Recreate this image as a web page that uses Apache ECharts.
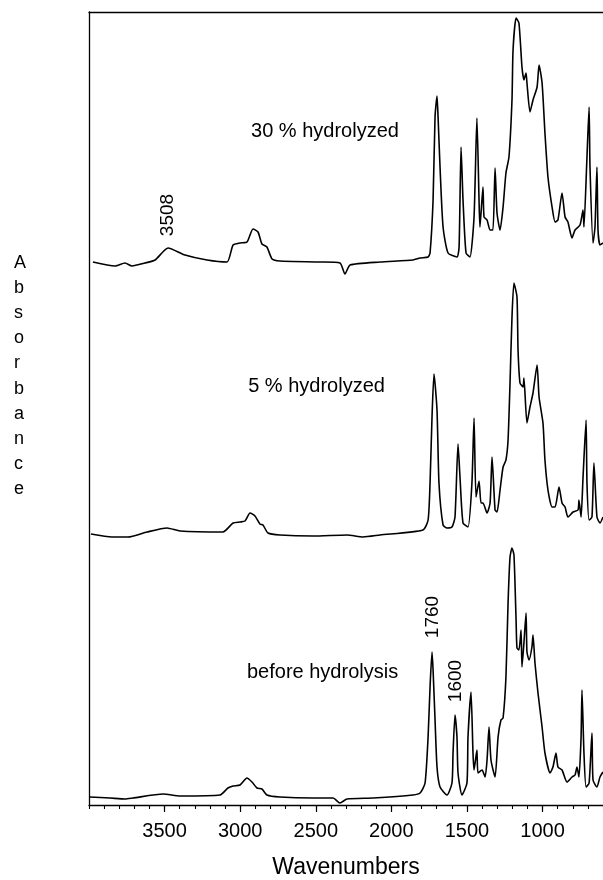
<!DOCTYPE html>
<html>
<head>
<meta charset="utf-8">
<script src="https://cdn.jsdelivr.net/npm/echarts@6/dist/echarts.min.js"></script>
<style>html,body{margin:0;padding:0;background:#fff;}#c{width:603px;height:880px;}</style>
</head>
<body>
<div id="c"></div>
<script>
// Wavenumbers (cm-1) and absorbance (arbitrary units, stacked offsets as drawn)
var wn30 = [3974,3828,3762,3716,3630,3563,3477,3365,3219,3087,3047,3001,2955,2915,2882,2856,2823,2789,2737,2472,2340,2307,2273,2075,1857,1810,1757,1744,1724,1711,1698,1691,1678,1658,1625,1566,1552,1539,1526,1506,1480,1453,1434,1420,1414,1394,1387,1367,1347,1328,1314,1301,1281,1261,1242,1222,1202,1195,1175,1156,1136,1123,1109,1103,1083,1063,1036,1023,1003,984,964,937,917,898,871,851,832,805,785,752,732,726,706,692,686,666,653,640,633,620,600];
var ab30 = [5.43,5.39,5.42,5.39,5.42,5.45,5.57,5.50,5.45,5.43,5.60,5.62,5.63,5.76,5.73,5.61,5.58,5.46,5.44,5.43,5.42,5.31,5.40,5.43,5.45,5.47,5.48,5.52,6.05,6.88,7.09,6.88,6.38,5.78,5.52,5.48,5.58,6.58,6.05,5.52,5.48,5.88,6.87,6.05,5.78,6.18,5.88,5.85,5.75,5.75,6.37,5.92,5.75,5.98,6.32,6.48,7.05,7.55,7.87,7.82,7.38,7.25,7.32,7.22,6.93,7.05,7.18,7.40,7.22,6.72,6.28,5.98,5.83,5.85,6.12,5.88,5.83,5.67,5.75,5.80,5.95,5.78,6.48,6.98,6.38,5.62,5.78,6.38,5.75,5.60,5.62];

var wn5 = [3987,3848,3742,3616,3484,3398,3114,3047,3001,2968,2935,2902,2869,2849,2816,2737,2518,2293,2187,2075,1791,1757,1744,1731,1718,1698,1685,1658,1632,1599,1579,1559,1546,1526,1493,1467,1453,1440,1420,1407,1394,1367,1347,1334,1314,1301,1281,1261,1242,1228,1215,1202,1189,1169,1162,1149,1129,1123,1103,1083,1063,1036,1023,997,984,964,937,917,891,871,851,832,798,765,759,745,732,712,706,692,673,660,640,620,600];
var ab5 = [2.71,2.68,2.68,2.73,2.77,2.74,2.73,2.82,2.83,2.84,2.92,2.89,2.81,2.80,2.72,2.70,2.69,2.70,2.68,2.70,2.75,2.85,3.22,3.88,4.31,3.95,3.22,2.80,2.77,2.78,2.88,3.61,3.28,2.82,2.78,3.22,3.87,3.08,3.24,3.02,3.02,2.92,3.02,3.48,2.95,2.93,3.15,3.38,3.45,3.65,4.22,4.88,5.22,5.08,4.55,4.22,4.18,4.27,3.82,3.98,4.12,4.40,4.08,3.82,3.45,3.15,2.98,2.98,3.18,3.02,2.98,2.88,2.93,2.95,3.05,2.88,3.28,3.85,3.22,2.85,2.88,3.42,2.88,2.82,2.88];

var wnB = [3995,3861,3762,3709,3510,3398,3133,3081,3047,3001,2955,2922,2889,2856,2823,2737,2518,2386,2340,2293,2121,1857,1810,1777,1757,1744,1731,1724,1711,1698,1678,1632,1599,1592,1579,1566,1559,1533,1500,1493,1473,1460,1453,1434,1427,1400,1380,1367,1354,1341,1314,1294,1275,1261,1242,1228,1215,1202,1189,1175,1169,1156,1142,1136,1123,1109,1103,1089,1070,1063,1050,1030,1003,984,950,931,911,898,871,838,805,785,772,759,745,739,726,712,692,673,666,640,620,600];
var abB = [0.08,0.07,0.06,0.07,0.11,0.09,0.10,0.17,0.19,0.20,0.27,0.23,0.17,0.16,0.10,0.08,0.07,0.07,0.02,0.06,0.07,0.10,0.12,0.22,0.68,1.18,1.53,1.35,0.85,0.38,0.18,0.10,0.22,0.52,0.90,0.68,0.32,0.10,0.22,0.68,1.13,0.52,0.35,0.55,0.32,0.35,0.28,0.45,0.78,0.45,0.28,0.68,0.85,0.87,1.28,2.02,2.48,2.57,2.50,1.85,1.57,1.55,1.75,1.38,1.62,1.92,1.53,1.45,1.58,1.70,1.42,1.12,0.78,0.52,0.32,0.38,0.52,0.38,0.35,0.23,0.28,0.30,0.38,0.28,0.68,1.15,0.52,0.18,0.22,0.72,0.25,0.18,0.28,0.33];

var majorTicks = [1000, 1500, 2000, 2500, 3000, 3500];
var seriesNames = ['30 % hydrolyzed', '5 % hydrolyzed', 'before hydrolysis'];
var xTitle = 'Wavenumbers';
var yTitle = 'Absorbance';

function pairs(w, a) { return w.map(function (v, i) { return [v, a[i]]; }); }

var FONT = '"Liberation Sans", Arial, Helvetica, sans-serif';
var lineStyle = { color: '#000', width: 1.6 };
function txt(coord, text, size, rotate) {
  return {
    coord: coord, symbol: 'circle', symbolSize: 0,
    label: { show: true, position: 'inside', formatter: text, color: '#000', fontSize: size, fontFamily: FONT, rotate: rotate || 0 }
  };
}

var chart = echarts.init(document.getElementById('c'), null, { renderer: 'canvas' });
chart.setOption({
  backgroundColor: '#fff',
  animation: false,
  grid: { left: 89, right: 0, top: 12, bottom: 75, containLabel: false, outerBoundsMode: 'none' },
  xAxis: [
    {
      type: 'value', min: 600, max: 4000, inverse: true, position: 'bottom',
      axisLine: { show: true, lineStyle: { color: '#000', width: 1.3 } },
      axisTick: { show: true, customValues: majorTicks, length: 7, lineStyle: { color: '#000', width: 1.2 } },
      axisLabel: { show: true, customValues: majorTicks, color: '#000', fontSize: 20, fontFamily: FONT, margin: 16,
        formatter: function (v) { return String(v); } },
      splitLine: { show: false },
      name: xTitle, nameLocation: 'middle', nameGap: 51,
      nameTextStyle: { color: '#000', fontSize: 23, fontFamily: FONT }
    },
    {
      type: 'value', min: 600, max: 4000, interval: 100, inverse: true, position: 'bottom',
      axisLine: { show: false },
      axisTick: { show: true, length: 4, lineStyle: { color: '#000', width: 1.1 } },
      axisLabel: { show: false }, splitLine: { show: false }
    },
    {
      type: 'value', min: 600, max: 4000, inverse: true, position: 'top',
      axisLine: { show: true, lineStyle: { color: '#000', width: 1.3 } },
      axisTick: { show: false }, axisLabel: { show: false }, splitLine: { show: false }
    }
  ],
  yAxis: {
    type: 'value', min: 0, max: 7.93,
    axisLine: { show: true, lineStyle: { color: '#000', width: 1.3 } },
    axisTick: { show: false }, axisLabel: { show: false }, splitLine: { show: false }
  },
  graphic: [{
    type: 'text', left: 14, top: 250,
    style: { text: yTitle.split('').join('\n'), fill: '#000', font: '18px ' + FONT, lineHeight: 25.2, align: 'center', x: 9 }
  }],
  series: [
    {
      name: seriesNames[0], type: 'line', xAxisIndex: 0, data: pairs(wn30, ab30),
      showSymbol: false, symbol: 'none', smooth: 0.2, lineStyle: lineStyle, silent: true,
      markPoint: { silent: true, data: [txt([2439, 6.74], seriesNames[0], 20), txt([3477, 5.90], '3508', 19, 90)] }
    },
    {
      name: seriesNames[1], type: 'line', xAxisIndex: 0, data: pairs(wn5, ab5),
      showSymbol: false, symbol: 'none', smooth: 0.2, lineStyle: lineStyle, silent: true,
      markPoint: { silent: true, data: [txt([2495, 4.19], seriesNames[1], 20)] }
    },
    {
      name: seriesNames[2], type: 'line', xAxisIndex: 0, data: pairs(wnB, abB),
      showSymbol: false, symbol: 'none', smooth: 0.2, lineStyle: lineStyle, silent: true,
      markPoint: { silent: true, data: [txt([2455, 1.33], seriesNames[2], 20), txt([1724, 1.88], '1760', 19, 90), txt([1572, 1.24], '1600', 19, 90)] }
    }
  ]
});
</script>
</body>
</html>
